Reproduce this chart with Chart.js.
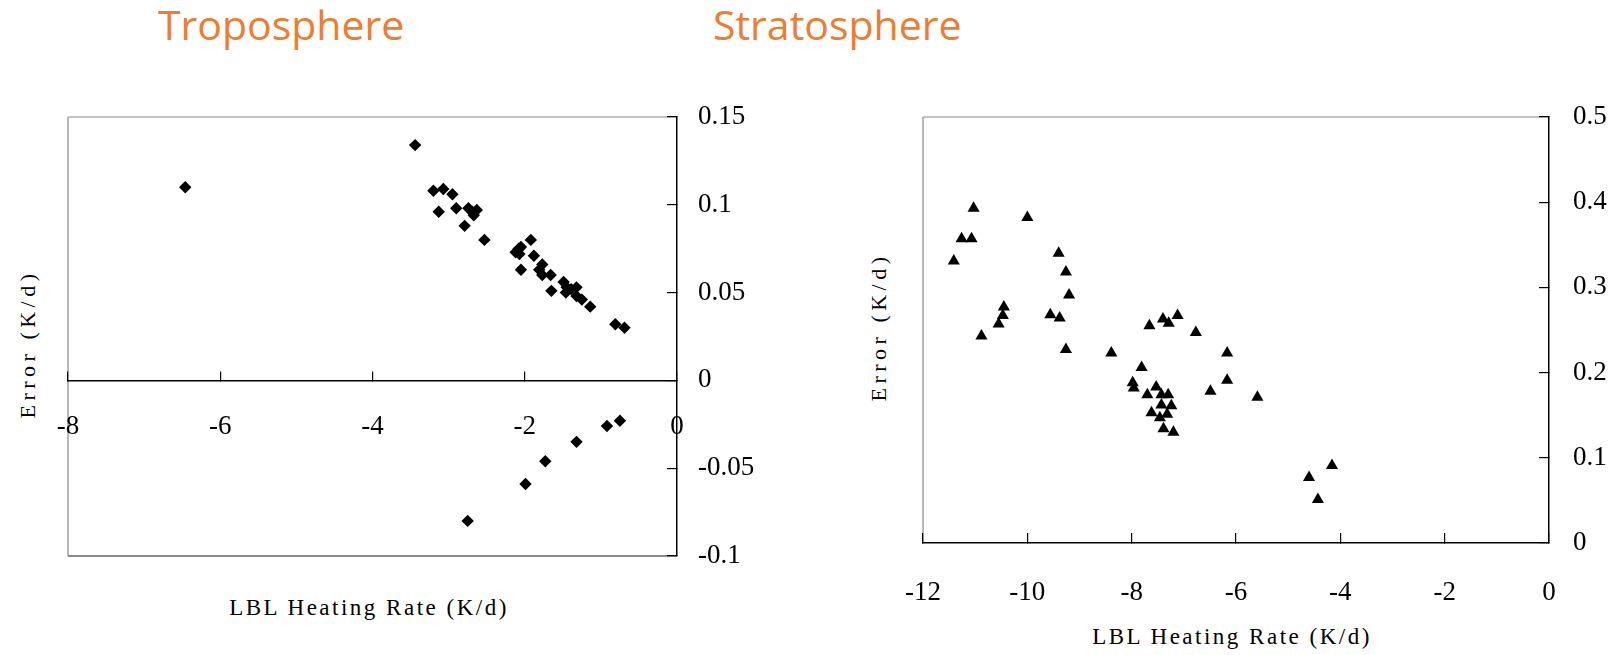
<!DOCTYPE html>
<html>
<head>
<meta charset="utf-8">
<title>Heating rate error</title>
<script src="https://cdn.jsdelivr.net/npm/chart.js@4/dist/chart.umd.min.js"></script>
<style>
  body { margin: 0; background: #fff; width: 1621px; height: 655px; position: relative; overflow: hidden; }
  canvas { position: absolute; top: 0; }
  .head { position: absolute; top: 4px; font-family: "Open Sans", sans-serif; font-size: 41px; line-height: 1; color: #ED7D31; }
  .lab { position: absolute; font-family: "Liberation Serif", serif; font-size: 23px; letter-spacing: 2.5px; color: #000; white-space: nowrap; transform: translate(-50%, -50%); }
  .lab.rot { font-size: 22px; letter-spacing: 4.5px; transform: translate(-50%, -50%) rotate(-90deg); }
</style>
</head>
<body>
<div class="head" style="left:158px">Troposphere</div>
<div class="head" style="left:713px">Stratosphere</div>
<div class="lab rot" style="left:28px;top:344px">Error (K/d)</div>
<div class="lab rot" style="left:879px;top:327px">Error (K/d)</div>
<div class="lab" style="left:369px;top:608px">LBL Heating Rate (K/d)</div>
<div class="lab" style="left:1232px;top:637px">LBL Heating Rate (K/d)</div>
<canvas id="tropo" width="800" height="655" style="left:0"></canvas>
<canvas id="strato" width="821" height="655" style="left:800px"></canvas>
<script>
// troposphere: LBL heating rate vs. error
const tropoRate = [-6.46, -3.44, -3.20, -3.07, -3.13, -2.95, -2.90, -2.74, -2.79, -2.67,
  -2.63, -2.69, -2.53, -2.12, -2.08, -2.05, -2.07, -2.05, -1.92, -1.88,
  -1.77, -1.81, -1.77, -1.66, -1.65, -1.49, -1.45, -1.46, -1.39, -1.32,
  -1.32, -1.25, -1.14, -0.81, -0.69, -0.92, -0.75, -1.32, -1.73, -1.99, -2.75];
const tropoError = [0.110, 0.134, 0.108, 0.109, 0.096, 0.106, 0.098, 0.098, 0.088, 0.094,
  0.097, 0.096, 0.080, 0.073, 0.075, 0.076, 0.072, 0.063, 0.080, 0.071,
  0.066, 0.063, 0.060, 0.060, 0.051, 0.056, 0.053, 0.050, 0.052, 0.053,
  0.048, 0.046, 0.042, 0.032, 0.030, -0.026, -0.023, -0.035, -0.046, -0.059, -0.080];

// stratosphere
const stratoRate = [-11.41, -11.26, -11.07, -11.03, -10.88, -10.55, -10.47, -10.45, -10.00, -9.56,
  -9.38, -9.40, -9.26, -9.20, -9.26, -8.39, -7.81, -7.98, -7.96, -7.66,
  -7.40, -7.29, -7.12, -6.77, -7.70, -7.53, -7.43, -7.30, -7.43, -7.24,
  -7.62, -7.46, -7.32, -7.39, -7.20, -6.49, -6.17, -6.17, -5.59, -4.60, -4.43, -4.16];
const stratoError = [0.331, 0.357, 0.357, 0.393, 0.243, 0.257, 0.267, 0.277, 0.382, 0.268,
  0.264, 0.340, 0.318, 0.291, 0.227, 0.223, 0.206, 0.188, 0.182, 0.255,
  0.263, 0.258, 0.267, 0.247, 0.174, 0.183, 0.174, 0.174, 0.162, 0.161,
  0.153, 0.147, 0.151, 0.134, 0.130, 0.178, 0.191, 0.223, 0.171, 0.077, 0.051, 0.091];

const tropoRateTicks = [-8, -6, -4, -2, 0];
const tropoErrorTicks = [-0.1, -0.05, 0, 0.05, 0.1, 0.15];
const stratoRateTicks = [-12, -10, -8, -6, -4, -2, 0];
const stratoErrorTicks = [0, 0.1, 0.2, 0.3, 0.4, 0.5];

const tickFont = { family: '"Liberation Serif", serif', size: 27 };

// grey frame on the sides that have no axis line
const boxFrame = {
  id: 'boxFrame',
  beforeDraw(chart, args, opts) {
    const { ctx, chartArea: a } = chart;
    ctx.save();
    ctx.strokeStyle = '#8a8a8a';
    opts.sides.forEach(s => {
      ctx.lineWidth = s === 'bottom' ? 2 : 1.2;
      ctx.beginPath();
      if (s === 'left') { ctx.moveTo(a.left, a.top); ctx.lineTo(a.left, a.bottom); }
      if (s === 'top') { ctx.moveTo(a.left, a.top); ctx.lineTo(a.right, a.top); }
      if (s === 'bottom') { ctx.moveTo(a.left, a.bottom); ctx.lineTo(a.right, a.bottom); }
      ctx.stroke();
    });
    ctx.restore();
  }
};

function fixedTicks(list) {
  return scale => { scale.ticks = list.map(v => ({ value: v })); };
}

function axis(extra) {
  return Object.assign({
    type: 'linear',
    grid: { drawOnChartArea: false, tickLength: -10, color: '#000', lineWidth: 1.2 },
    border: { color: '#000', width: 1.5 },
    ticks: { font: tickFont, color: '#000', maxRotation: 0, autoSkip: false, callback: v => String(v) }
  }, extra);
}

function scatter(id, xs, ys, style, radius, scales, pad, sides) {
  new Chart(document.getElementById(id), {
    type: 'scatter',
    data: {
      datasets: [{
        data: xs.map((x, i) => ({ x: x, y: ys[i] })),
        pointStyle: style,
        pointRadius: radius,
        pointBackgroundColor: '#000',
        pointBorderWidth: 0,
        clip: false
      }]
    },
    options: {
      responsive: false,
      animation: false,
      layout: { padding: pad },
      plugins: { legend: { display: false }, tooltip: { enabled: false }, boxFrame: { sides: sides } },
      scales: scales
    },
    plugins: [boxFrame]
  });
}

scatter('tropo', tropoRate, tropoError, 'rectRot', 6.2, {
  x: axis({
    min: -8, max: 0, position: { y: 0 },
    afterBuildTicks: fixedTicks(tropoRateTicks),
    ticks: Object.assign(axis().ticks, { padding: 40 })
  }),
  y: axis({
    min: -0.1, max: 0.15, position: 'right',
    afterBuildTicks: fixedTicks(tropoErrorTicks),
    afterFit: s => { s.width = 123; },
    ticks: Object.assign(axis().ticks, { padding: 31, crossAlign: 'near' })
  })
}, { left: 68, top: 117, right: 0, bottom: 99 }, ['left', 'top', 'bottom']);

scatter('strato', stratoRate, stratoError, 'triangle', 7, {
  x: axis({
    min: -12, max: 0, position: 'bottom',
    afterBuildTicks: fixedTicks(stratoRateTicks),
    afterFit: s => { s.height = 112; },
    ticks: Object.assign(axis().ticks, { padding: 44 })
  }),
  y: axis({
    min: 0, max: 0.5, position: 'right',
    afterBuildTicks: fixedTicks(stratoErrorTicks),
    afterFit: s => { s.width = 72; },
    ticks: Object.assign(axis().ticks, { padding: 34, crossAlign: 'near' })
  })
}, { left: 123, top: 117, right: 0, bottom: 0 }, ['left', 'top']);
</script>
</body>
</html>
